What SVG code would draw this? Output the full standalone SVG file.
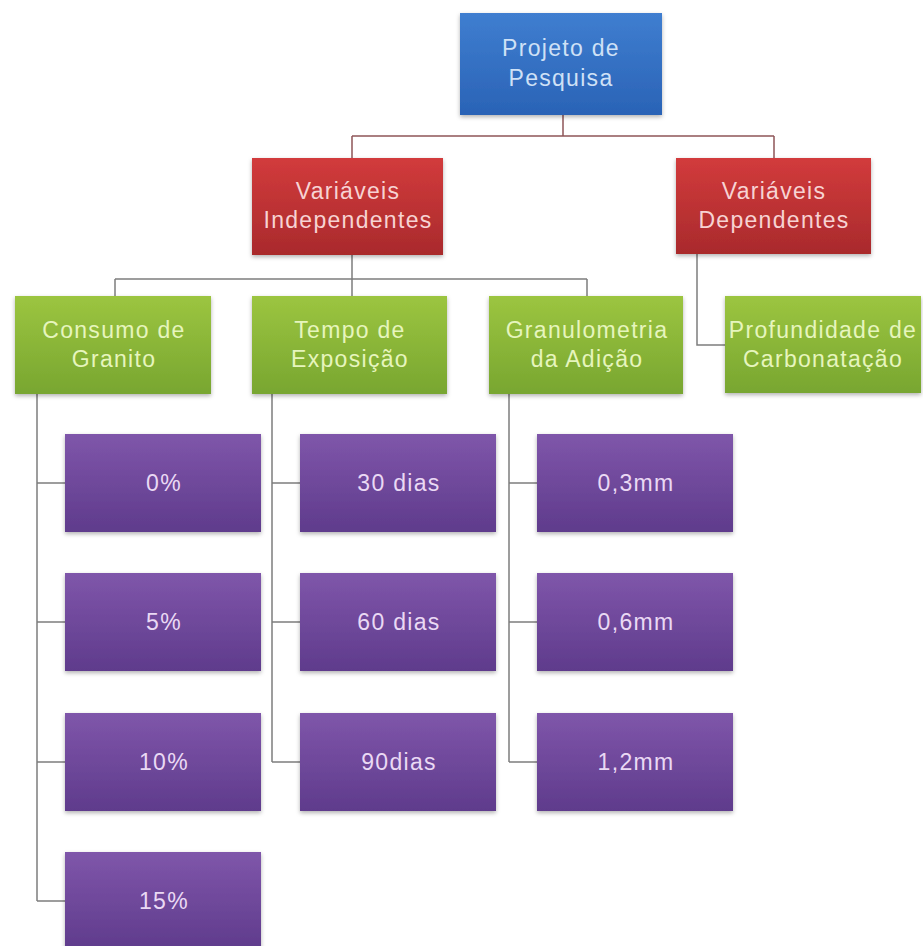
<svg xmlns="http://www.w3.org/2000/svg" width="923" height="946" viewBox="0 0 923 946">
<defs>
<linearGradient id="gBlue" x1="0" y1="0" x2="0" y2="1"><stop offset="0" stop-color="#3f7ed0"/><stop offset="1" stop-color="#2a63b6"/></linearGradient>
<linearGradient id="gRed" x1="0" y1="0" x2="0" y2="1"><stop offset="0" stop-color="#d23b3c"/><stop offset="1" stop-color="#a92a2c"/></linearGradient>
<linearGradient id="gGreen" x1="0" y1="0" x2="0" y2="1"><stop offset="0" stop-color="#9cc540"/><stop offset="1" stop-color="#78a630"/></linearGradient>
<linearGradient id="gPurple" x1="0" y1="0" x2="0" y2="1"><stop offset="0" stop-color="#7f56aa"/><stop offset="1" stop-color="#5f3b8c"/></linearGradient>
<filter id="sh" x="-10%" y="-10%" width="120%" height="130%"><feDropShadow dx="0" dy="2" stdDeviation="2" flood-color="#000" flood-opacity="0.3"/></filter>
</defs>
<style>
.box{filter:url(#sh);}
.t{font-family:"Liberation Sans",Arial,sans-serif;font-size:23px;letter-spacing:1.3px;text-anchor:middle;}
.tb{fill:#cfe1f6;}
.tr{fill:#f7d3d3;}
.tg{fill:#e6f5bd;}
.tp{fill:#ead9f4;}
.c1{fill:none;stroke:#8e5558;stroke-width:1.5;}
.c2{fill:none;stroke:#7d7d7d;stroke-width:1.5;}
</style>
<g id="connectors">
<path class="c1" d="M563 115 V136 M352 136 H774 M352 136 V158 M774 136 V158"/>
<path class="c2" d="M352 255 V279 M115 279 H587 M115 279 V296 M352 279 V296 M587 279 V296"/>
<path class="c2" d="M697 254 V345 H725"/>
<path class="c2" d="M37 394 V901 M37 483 H65 M37 622 H65 M37 762 H65 M37 901 H65"/>
<path class="c2" d="M272 394 V762 M272 483 H300 M272 622 H300 M272 762 H300"/>
<path class="c2" d="M509 394 V762 M509 483 H537 M509 622 H537 M509 762 H537"/>
</g>
<g id="root"><rect class="box" x="460" y="13" width="202" height="102" fill="url(#gBlue)"/><text class="t tb" x="561" y="56">Projeto de</text><text class="t tb" x="561" y="86">Pesquisa</text></g>
<g id="var-indep"><rect class="box" x="252" y="158" width="191" height="97" fill="url(#gRed)"/><text class="t tr" x="348" y="199">Variáveis</text><text class="t tr" x="348" y="228">Independentes</text></g>
<g id="var-dep"><rect class="box" x="676" y="158" width="195" height="96" fill="url(#gRed)"/><text class="t tr" x="774" y="199">Variáveis</text><text class="t tr" x="774" y="228">Dependentes</text></g>
<g id="consumo"><rect class="box" x="15" y="296" width="196" height="98" fill="url(#gGreen)"/><text class="t tg" x="114" y="338">Consumo de</text><text class="t tg" x="114" y="367">Granito</text></g>
<g id="tempo"><rect class="box" x="252" y="296" width="195" height="98" fill="url(#gGreen)"/><text class="t tg" x="350" y="338">Tempo de</text><text class="t tg" x="350" y="367">Exposição</text></g>
<g id="granulometria"><rect class="box" x="489" y="296" width="194" height="98" fill="url(#gGreen)"/><text class="t tg" x="587" y="338">Granulometria</text><text class="t tg" x="587" y="367">da Adição</text></g>
<g id="profundidade"><rect class="box" x="725" y="296" width="196" height="97" fill="url(#gGreen)"/><text class="t tg" x="823" y="338">Profundidade de</text><text class="t tg" x="823" y="367">Carbonatação</text></g>
<g id="p0"><rect class="box" x="65" y="434" width="196" height="98" fill="url(#gPurple)"/><text class="t tp" x="164" y="491">0%</text></g>
<g id="p5"><rect class="box" x="65" y="573" width="196" height="98" fill="url(#gPurple)"/><text class="t tp" x="164" y="630">5%</text></g>
<g id="p10"><rect class="box" x="65" y="713" width="196" height="98" fill="url(#gPurple)"/><text class="t tp" x="164" y="770">10%</text></g>
<g id="p15"><rect class="box" x="65" y="852" width="196" height="98" fill="url(#gPurple)"/><text class="t tp" x="164" y="909">15%</text></g>
<g id="d30"><rect class="box" x="300" y="434" width="196" height="98" fill="url(#gPurple)"/><text class="t tp" x="399" y="491">30 dias</text></g>
<g id="d60"><rect class="box" x="300" y="573" width="196" height="98" fill="url(#gPurple)"/><text class="t tp" x="399" y="630">60 dias</text></g>
<g id="d90"><rect class="box" x="300" y="713" width="196" height="98" fill="url(#gPurple)"/><text class="t tp" x="399" y="770">90dias</text></g>
<g id="g03"><rect class="box" x="537" y="434" width="196" height="98" fill="url(#gPurple)"/><text class="t tp" x="636" y="491">0,3mm</text></g>
<g id="g06"><rect class="box" x="537" y="573" width="196" height="98" fill="url(#gPurple)"/><text class="t tp" x="636" y="630">0,6mm</text></g>
<g id="g12"><rect class="box" x="537" y="713" width="196" height="98" fill="url(#gPurple)"/><text class="t tp" x="636" y="770">1,2mm</text></g>
</svg>
